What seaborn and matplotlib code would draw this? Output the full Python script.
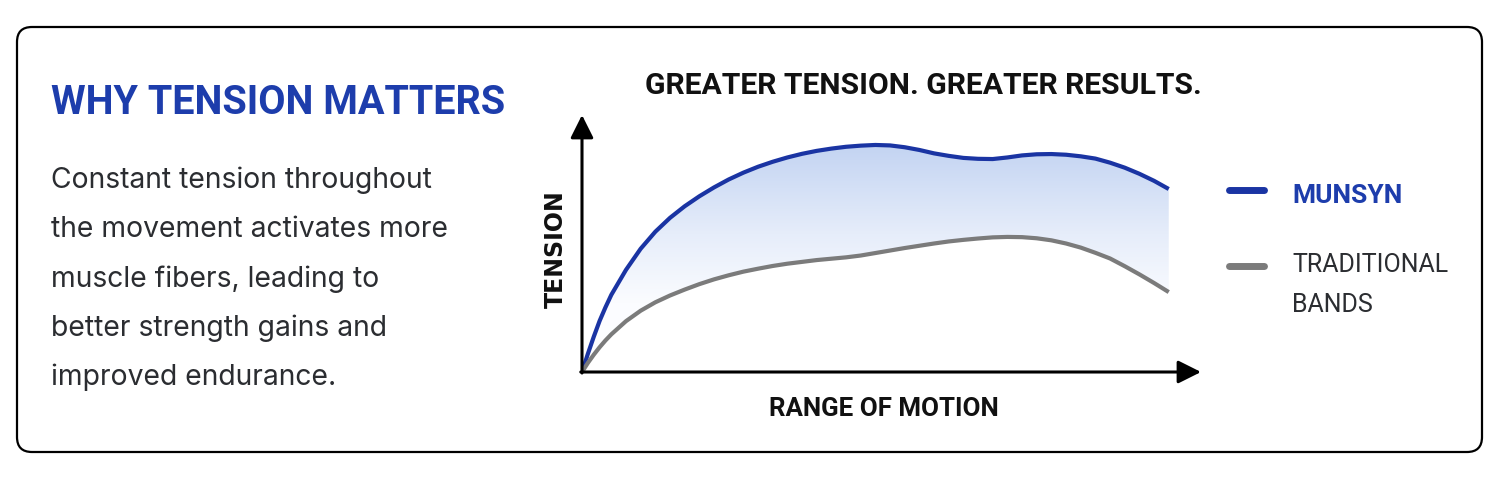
import numpy as np
import pandas as pd
import matplotlib
matplotlib.use("Agg")
import matplotlib.pyplot as plt
import seaborn as sns
from matplotlib.colors import LinearSegmentedColormap
from matplotlib.lines import Line2D
from matplotlib.patches import FancyBboxPatch

# Range of motion (% of full movement) and relative tension
range_of_motion = [0, 1, 2, 3, 4, 5, 7.5, 10, 12.5, 15, 17.5, 20, 22.5, 25, 27.5, 30,
                   32.5, 35, 37.5, 40, 42.5, 45, 47.5, 50, 52.5, 55, 57.5, 60, 62.5, 65,
                   67.5, 70, 72.5, 75, 77.5, 80, 82.5, 85, 87.5, 90, 92.5, 95, 97.5, 100]
munsyn_tension = [0, 8, 15.5, 22.5, 28.5, 34, 45, 54.3, 61.8, 67.9, 73, 77.4, 81.3, 84.8, 87.8, 90.4,
                  92.6, 94.5, 96.1, 97.4, 98.4, 99.2, 99.7, 100, 99.8, 99, 97.8, 96.3, 95.2, 94.3,
                  93.9, 93.8, 94.5, 95.4, 95.9, 96, 95.7, 95, 94, 92.2, 90, 87.3, 84.2, 80.6]
traditional_tension = [0, 4, 7.6, 10.9, 13.9, 16.6, 22.4, 27, 30.7, 33.7, 36.3, 38.7, 40.8, 42.6, 44.2, 45.5,
                       46.7, 47.7, 48.5, 49.3, 49.9, 50.5, 51.3, 52.4, 53.5, 54.6, 55.6, 56.6, 57.5, 58.2,
                       58.8, 59.3, 59.5, 59.4, 58.9, 58, 56.6, 54.8, 52.5, 50, 46.6, 43, 39.2, 35.2]
series_names = ["MUNSYN", "TRADITIONAL\nBANDS"]

heading = "WHY TENSION MATTERS"
body_lines = ["Constant tension throughout",
              "the movement activates more",
              "muscle fibers, leading to",
              "better strength gains and",
              "improved endurance."]
chart_title = "GREATER TENSION. GREATER RESULTS."

BLUE = "#1a34a3"
HEAD_BLUE = "#1d3dac"
GRAY = "#7b7b7b"
TEXT = "#2b2d31"

sns.set_theme(style="white")
plt.rcParams["font.family"] = ["Roboto", "DejaVu Sans"]

W, H = 1500, 500
fig = plt.figure(figsize=(15, 5), dpi=100)
fig.patch.set_facecolor("white")


def fx(px):
    return px / W


def fy(py):
    return 1 - py / H


# rounded frame
frame = FancyBboxPatch((0.17, 0.48), 14.65, 4.25, boxstyle="round,pad=0,rounding_size=0.15",
                       transform=fig.dpi_scale_trans, fill=False, lw=1.6, ec="black")
fig.add_artist(frame)

# left text block
fig.text(fx(51), fy(114), heading, weight="bold", fontsize=28.5,
         color=HEAD_BLUE, va="baseline", ha="left")
for i, line in enumerate(body_lines):
    fig.text(fx(51), fy(188 + i * 49.3), line, family=["Inter", "Roboto", "DejaVu Sans"],
             fontsize=20.4, color=TEXT, va="baseline", ha="left")

# chart
ax = fig.add_axes([fx(582), fy(372), fx(1201) - fx(582), (372 - 115) / H])
df = pd.DataFrame({
    "rom": range_of_motion * 2,
    "tension": munsyn_tension + traditional_tension,
    "series": [series_names[0]] * len(range_of_motion) + [series_names[1]] * len(range_of_motion),
})

# gradient band between the two curves
band = ax.fill_between(range_of_motion, traditional_tension, munsyn_tension,
                       facecolor="none", edgecolor="none")
grad_cmap = LinearSegmentedColormap.from_list(
    "grad", [(0, "#ffffff"), (0.3, "#fbfcff"), (0.6, "#e6edfa"), (1, "#c2d3f2")])
grad = np.linspace(0, 1, 256).reshape(-1, 1)
img = ax.imshow(grad, extent=[0, 100, 0, 101], origin="lower", aspect="auto",
                cmap=grad_cmap, zorder=1, interpolation="bilinear")
img.set_clip_path(band.get_paths()[0], transform=ax.transData)

sns.lineplot(data=df, x="rom", y="tension", hue="series", ax=ax,
             palette={series_names[0]: BLUE, series_names[1]: GRAY},
             lw=3, legend=False, zorder=3, solid_capstyle="butt", solid_joinstyle="round")

ax.set_xlim(0, 105.5)
ax.set_ylim(0, 113.2)
ax.set_xticks([])
ax.set_yticks([])
ax.set_xlabel("")
ax.set_ylabel("")
for s in ax.spines.values():
    s.set_visible(False)
ax.patch.set_alpha(0)

arrow = dict(arrowstyle="-|>,head_length=0.7,head_width=0.35", lw=2.2, color="black",
             shrinkA=0, shrinkB=0, mutation_scale=20)
ax.annotate("", xy=(0, 1), xytext=(0, -0.004), xycoords="axes fraction", arrowprops=arrow)
ax.annotate("", xy=(1, 0), xytext=(-0.002, 0), xycoords="axes fraction", arrowprops=arrow)

fig.text(fx(923), fy(94), chart_title, weight="bold", fontsize=21.7,
         color="#111111", ha="center", va="baseline")
fig.text(fx(884), fy(416), "RANGE OF MOTION", weight="bold", fontsize=18.6,
         color="#111111", ha="center", va="baseline")
fig.text(fx(556), fy(249), "TENSION", family=["DejaVu Sans"], weight="bold", fontsize=17,
         color="#111111", ha="center", va="center", rotation=90)

# legend
fig.add_artist(Line2D([fx(1229), fx(1264)], [fy(190), fy(190)], transform=fig.transFigure,
                      color=BLUE, lw=5, solid_capstyle="round"))
fig.add_artist(Line2D([fx(1229), fx(1264)], [fy(266), fy(266)], transform=fig.transFigure,
                      color=GRAY, lw=5, solid_capstyle="round"))
fig.text(fx(1292), fy(203), series_names[0], weight="bold", fontsize=19, color=HEAD_BLUE,
         ha="left", va="baseline")
fig.text(fx(1292), fy(272), "TRADITIONAL", fontsize=18, color=TEXT, ha="left", va="baseline")
fig.text(fx(1292), fy(312), "BANDS", fontsize=18, color=TEXT, ha="left", va="baseline")

fig.savefig("out.png", dpi=100, facecolor="white")
